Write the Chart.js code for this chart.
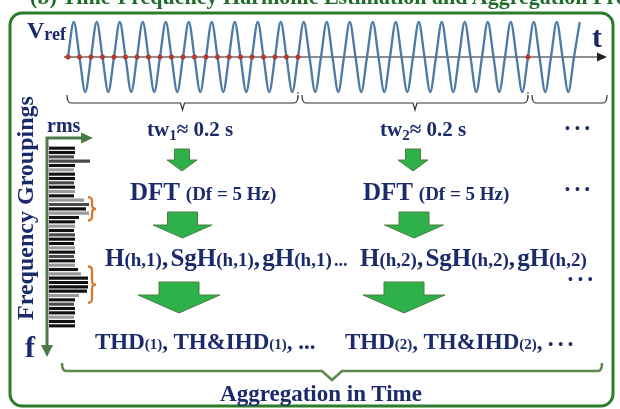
<!DOCTYPE html>
<html>
<head>
<meta charset="utf-8">
<script src="https://cdn.jsdelivr.net/npm/chart.js@4.4.0/dist/chart.umd.min.js"></script>
<style>
  html, body { margin: 0; padding: 0; background: #fff; }
  #wrap { position: relative; width: 620px; height: 409px; overflow: hidden; background: #fff; }
  #wrap canvas { position: absolute; left: 0; top: 0; }
  .lbl { position: absolute; white-space: nowrap; line-height: 1; font-weight: bold;
         font-family: "Liberation Serif", "DejaVu Serif", serif; color: #1b2a6b; }
  .dots { font-size: 14px; letter-spacing: 5px; }
</style>
</head>
<body>
<div id="wrap">
  <canvas id="waveChart" width="620" height="409"></canvas>
  <canvas id="specChart" width="620" height="409"></canvas>
</div>
<script>
// reference voltage, sampled every quarter period (50 Hz -> 5 ms steps)
const waveValues = [
  0, 1, 0, -1, 0, 1, 0, -1, 0, 1, 0, -1, 0, 1, 0, -1, 0, 1, 0, -1,
  0, 1, 0, -1, 0, 1, 0, -1, 0, 1, 0, -1, 0, 1, 0, -1, 0, 1, 0, -1,
  0, 1, 0, -1, 0, 1, 0, -1, 0, 1, 0, -1, 0, 1, 0, -1, 0, 1, 0, -1,
  0, 1, 0, -1, 0, 1, 0, -1, 0, 1, 0, -1, 0, 1, 0, -1, 0, 1, 0, -1,
  0, 1, 0, -1, 0, 1, 0, -1, 0, 1
];
// samples marked in red (zero crossings of window 1, end of window 2)
const markIdx = [0, 2, 4, 6, 8, 10, 12, 14, 16, 18, 20, 22, 24, 26, 28, 30, 32, 34, 36, 38, 40, 80];
// window boundaries (sample index)
const windowEnds = [40, 80];

// spectrum of one window: 5 Hz bins
const specBins = [5, 10, 15, 20, 25, 30, 35, 40, 45, 50, 55, 60, 65, 70, 75, 80, 85, 90, 95, 100,
  105, 110, 115, 120, 125, 130, 135, 140, 145, 150, 155, 160, 165, 170, 175, 180, 185, 190, 195, 200,
  205, 210];
const specRms = [52, 52, 50, 82, 52, 50, 52, 52, 50, 52,
  52, 50, 70, 80, 74, 80, 60, 52, 52, 50,
  52, 52, 50, 52, 52, 50, 52, 52, 58, 64,
  78, 78, 78, 76, 60, 52, 50, 52, 52, 50,
  52, 52];
const specShade = [0, 0, 1, 1, 0, 2, 0, 0, 1, 0,
  2, 0, 2, 1, 0, 2, 0, 0, 2, 0,
  1, 0, 0, 2, 0, 1, 0, 2, 0, 2,
  0, 0, 0, 0, 2, 0, 1, 0, 0, 2,
  0, 0];
const groupBins = [[12, 16], [28, 35]];

const shadeColors = ['#111111', '#4a4a4a', '#9a9a9a'];

// text labels
function label(html, x, base, size, extra) {
  const d = document.createElement('div');
  d.className = 'lbl';
  d.innerHTML = html;
  d.style.fontSize = size + 'px';
  d.style.left = x + 'px';
  d.style.top = (base - 0.8375 * size) + 'px';
  if (extra) Object.assign(d.style, extra);
  document.getElementById('wrap').appendChild(d);
  return d;
}
const s = (t, px, va) => `<span style="font-size:${px}px;vertical-align:${va || 0}px">${t}</span>`;

label('(b) Time-Frequency Harmonic Estimation and Aggregation Processing', 30, 4, 22, { color: '#1e6e2a' });
label('V' + s('ref', 18, -2), 27, 38, 24);
label('t', 592, 47, 30);
label('Frequency Groupings', 25, 208, 24, { top: '208px', transform: 'translate(-50%,-50%) rotate(-90deg)' });
label('rms', 47, 132, 20);
label('f', 25, 357, 30);

label('tw' + s('1', 15, -4) + '≈ 0.2 s', 147, 137, 21);
label('tw' + s('2', 15, -4) + '≈ 0.2 s', 380, 137, 21);
label('<span class="dots">•••</span>', 565, 134, 14);

label('DFT ' + s('(Df = 5 Hz)', 19), 130, 200, 25);
label('DFT ' + s('(Df = 5 Hz)', 19), 363, 200, 25);
label('<span class="dots">•••</span>', 565, 195, 14);

label('H' + s('(h,1)', 19) + ', SgH' + s('(h,1)', 19) + ', gH' + s('(h,1)', 19) + ' ' + s('...', 18), 105, 266, 25, { wordSpacing: '-4px' });
label('H' + s('(h,2)', 19) + ', SgH' + s('(h,2)', 19) + ', gH' + s('(h,2)', 19), 360, 266, 25, { wordSpacing: '-4px' });
label('<span class="dots">•••</span>', 568, 285, 14);

label('THD' + s('(1)', 15) + ', TH&amp;IHD' + s('(1)', 15) + ', ...', 95, 349, 23);
label('THD' + s('(2)', 15) + ', TH&amp;IHD' + s('(2)', 15) + ', <span class="dots">•••</span>', 345, 349, 23);

label('Aggregation in Time', 321, 401, 23, { transform: 'translateX(-50%)' });

// drawing helpers for the diagram decorations
function downArrow(ctx, a) {
  ctx.beginPath();
  ctx.moveTo(a.cx - a.sw / 2, a.top);
  ctx.lineTo(a.cx + a.sw / 2, a.top);
  ctx.lineTo(a.cx + a.sw / 2, a.top + a.sh);
  ctx.lineTo(a.cx + a.hw / 2, a.top + a.sh);
  ctx.lineTo(a.cx, a.top + a.sh + a.hh);
  ctx.lineTo(a.cx - a.hw / 2, a.top + a.sh);
  ctx.lineTo(a.cx - a.sw / 2, a.top + a.sh);
  ctx.closePath();
  ctx.fill();
  ctx.stroke();
}

function brace(ctx, x1, x2, y, mid, lift, dip, half) {
  ctx.beginPath();
  ctx.moveTo(x1, y - lift);
  ctx.quadraticCurveTo(x1, y, x1 + 4, y);
  if (mid != null) {
    ctx.lineTo(mid - half, y);
    ctx.lineTo(mid, y + dip);
    ctx.lineTo(mid + half, y);
  }
  ctx.lineTo(x2 - 4, y);
  ctx.quadraticCurveTo(x2, y, x2, y - lift);
  ctx.stroke();
}

const arrows = [
  { cx: 182, top: 149, sw: 15, sh: 11, hw: 30, hh: 11 },
  { cx: 413, top: 149, sw: 15, sh: 11, hw: 30, hh: 11 },
  { cx: 182.5, top: 212, sw: 30, sh: 13, hw: 59, hh: 13 },
  { cx: 414, top: 212, sw: 30, sh: 13, hw: 59, hh: 13 },
  { cx: 179, top: 282, sw: 40, sh: 13, hw: 82, hh: 18 },
  { cx: 404, top: 282, sw: 40, sh: 13, hw: 82, hh: 18 }
];

const framePlugin = {
  id: 'frame',
  beforeDatasetsDraw(chart) {
    const ctx = chart.ctx;
    const y0 = chart.scales.y.getPixelForValue(0);
    ctx.save();
    // time axis
    ctx.strokeStyle = '#6a6a6a';
    ctx.lineWidth = 1.3;
    ctx.beginPath();
    ctx.moveTo(64, y0);
    ctx.lineTo(599, y0);
    ctx.stroke();
    ctx.fillStyle = '#222';
    ctx.beginPath();
    ctx.moveTo(597, y0 - 4.5);
    ctx.lineTo(607, y0);
    ctx.lineTo(597, y0 + 4.5);
    ctx.closePath();
    ctx.fill();
    ctx.restore();
  },
  afterDatasetsDraw(chart) {
    const ctx = chart.ctx;
    const xs = chart.scales.x;
    const yBottom = chart.scales.y.getPixelForValue(-1);
    ctx.save();

    // outer green frame
    ctx.strokeStyle = '#2b7d2b';
    ctx.lineWidth = 3;
    const L = 10, T = 13, R = 613, B = 406, r = 12;
    ctx.beginPath();
    ctx.moveTo(L + r, T);
    ctx.arcTo(R, T, R, B, r);
    ctx.arcTo(R, B, L, B, r);
    ctx.arcTo(L, B, L, T, r);
    ctx.arcTo(L, T, R, T, r);
    ctx.closePath();
    ctx.stroke();

    // window brackets under the wave
    const starts = [xs.getPixelForValue(0) - 1];
    windowEnds.forEach(i => starts.push(xs.getPixelForValue(i) + 4));
    const ends = windowEnds.map(i => xs.getPixelForValue(i)).concat([607]);
    ctx.strokeStyle = '#333';
    ctx.lineWidth = 1.2;
    starts.forEach((x1, k) => {
      const x2 = ends[k];
      const mid = k < windowEnds.length ? (x1 + x2) / 2 : null;
      brace(ctx, x1, x2, 103, mid, 8, 7, 2);
    });
    // dashed window boundaries
    ctx.setLineDash([2, 2]);
    ctx.strokeStyle = '#555';
    windowEnds.forEach(i => {
      const x = xs.getPixelForValue(i);
      ctx.beginPath();
      ctx.moveTo(x, yBottom);
      ctx.lineTo(x, 100);
      ctx.stroke();
    });
    ctx.setLineDash([]);

    // green process arrows
    ctx.fillStyle = '#2eb04b';
    ctx.strokeStyle = '#4f7f3f';
    ctx.lineWidth = 1;
    arrows.forEach(a => downArrow(ctx, a));

    // aggregation bracket
    ctx.strokeStyle = '#5b8a4c';
    ctx.lineWidth = 2.5;
    brace(ctx, 62, 602, 371, 332, 8, 9, 10);
    ctx.restore();
  }
};

new Chart(document.getElementById('waveChart'), {
  type: 'line',
  data: {
    labels: waveValues.map((v, i) => i * 5),
    datasets: [
      {
        data: waveValues,
        borderColor: '#4d7ba6',
        borderWidth: 2.3,
        pointRadius: 0,
        cubicInterpolationMode: 'monotone',
        clip: false,
        order: 2
      },
      {
        data: waveValues.map((v, i) => markIdx.includes(i) ? v : null),
        showLine: false,
        pointRadius: 2.3,
        pointBackgroundColor: '#c0392b',
        pointBorderColor: '#a52a2a',
        pointBorderWidth: 0.5,
        clip: false,
        order: 1
      }
    ]
  },
  options: {
    responsive: false,
    animation: false,
    devicePixelRatio: 1,
    events: [],
    layout: { padding: { left: 68, right: 40.25, top: 22, bottom: 317 } },
    scales: {
      x: { type: 'category', display: false, offset: false },
      y: { min: -1, max: 1, display: false }
    },
    plugins: { legend: { display: false }, tooltip: { enabled: false } }
  },
  plugins: [framePlugin]
});

// spectrum axes + grouping braces
const specPlugin = {
  id: 'specAxes',
  afterDatasetsDraw(chart) {
    const ctx = chart.ctx;
    const ys = chart.scales.y;
    const x0 = chart.scales.x.getPixelForValue(0) - 2;
    ctx.save();
    ctx.strokeStyle = '#4a7a48';
    ctx.fillStyle = '#4a7a48';
    ctx.lineWidth = 3;
    ctx.beginPath();
    ctx.moveTo(x0, 137);
    ctx.lineTo(x0, 347);
    ctx.moveTo(x0 - 1.5, 138);
    ctx.lineTo(82, 138);
    ctx.stroke();
    ctx.beginPath();
    ctx.moveTo(81, 132.5);
    ctx.lineTo(93, 138);
    ctx.lineTo(81, 143.5);
    ctx.closePath();
    ctx.fill();
    ctx.beginPath();
    ctx.moveTo(x0 - 6, 345);
    ctx.lineTo(x0, 357);
    ctx.lineTo(x0 + 6, 345);
    ctx.closePath();
    ctx.fill();

    ctx.strokeStyle = '#d9772b';
    ctx.lineWidth = 2.3;
    groupBins.forEach(([a, b]) => {
      const y1 = ys.getPixelForValue(a) - 3;
      const y2 = ys.getPixelForValue(b) + 3;
      const ym = (y1 + y2) / 2;
      const x = 88, w = 8, r = 4;
      ctx.beginPath();
      ctx.moveTo(x, y1);
      ctx.quadraticCurveTo(x + w / 2, y1, x + w / 2, y1 + r);
      ctx.lineTo(x + w / 2, ym - r);
      ctx.quadraticCurveTo(x + w / 2, ym, x + w, ym);
      ctx.quadraticCurveTo(x + w / 2, ym, x + w / 2, ym + r);
      ctx.lineTo(x + w / 2, y2 - r);
      ctx.quadraticCurveTo(x + w / 2, y2, x, y2);
      ctx.stroke();
    });
    ctx.restore();
  }
};

new Chart(document.getElementById('specChart'), {
  type: 'bar',
  data: {
    labels: specBins,
    datasets: [{
      data: specRms,
      backgroundColor: specShade.map(k => shadeColors[k]),
      borderWidth: 0,
      barPercentage: 0.72,
      categoryPercentage: 1
    }]
  },
  options: {
    indexAxis: 'y',
    responsive: false,
    animation: false,
    devicePixelRatio: 1,
    events: [],
    layout: { padding: { left: 49, right: 521, top: 146, bottom: 81 } },
    scales: {
      x: { min: 0, max: 100, display: false },
      y: { type: 'category', display: false }
    },
    plugins: { legend: { display: false }, tooltip: { enabled: false } }
  },
  plugins: [specPlugin]
});
</script>
</body>
</html>
